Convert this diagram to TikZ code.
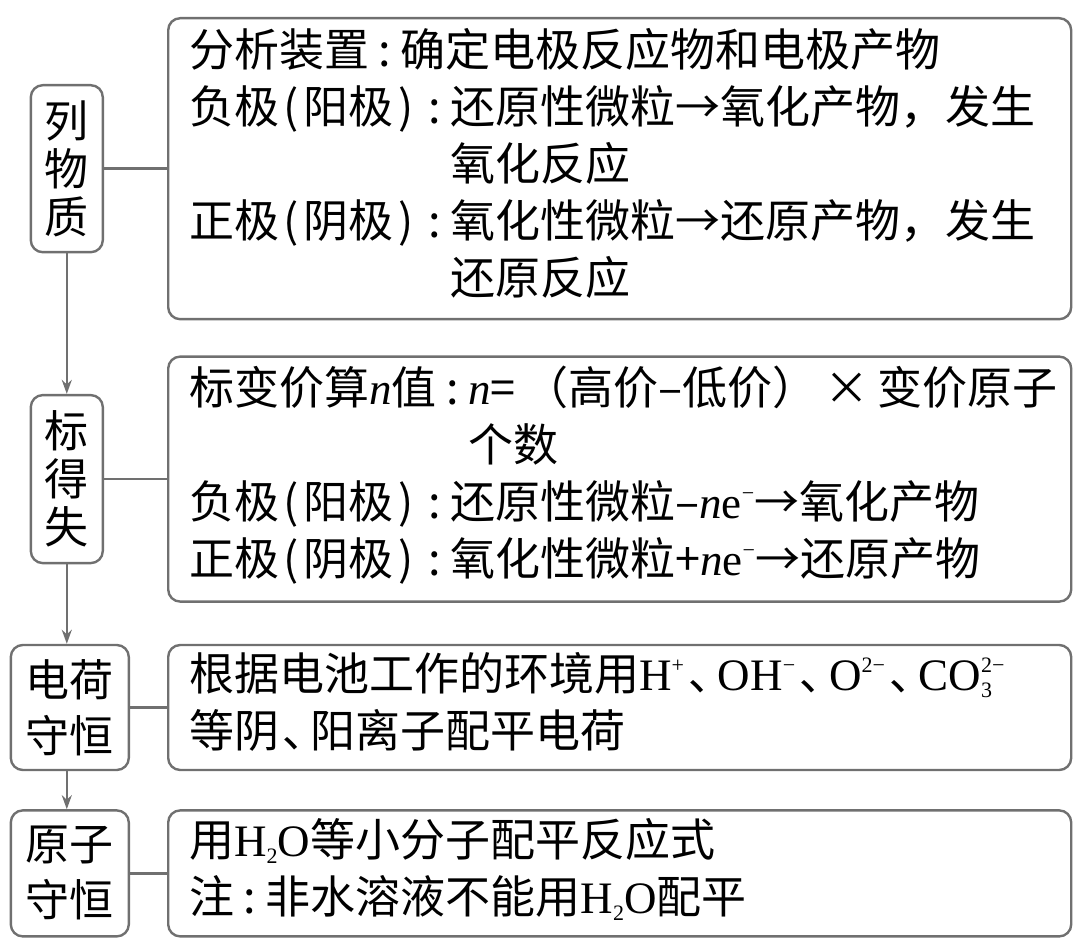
\documentclass[tikz,border=0pt]{standalone}
\usepackage[no-math]{fontspec}
\setmainfont{Noto Sans CJK SC}
\newfontfamily\latin{Liberation Serif}
\usetikzlibrary{arrows.meta, positioning}
\definecolor{LineGray}{HTML}{707070}
\newcommand{\mh}{\makebox[0.7em]{:}}
\newcommand{\lpar}{\makebox[0.55em]{(}}
\newcommand{\rpar}{\makebox[0.55em]{)}}
\newcommand{\dun}[1][0.7em]{\makebox[#1]{､}}
\newcommand{\el}[1]{{\latin #1}}
\newcommand{\up}[1]{\raisebox{0.4em}{\fontsize{22}{22}\selectfont\latin #1}}
\newcommand{\dn}[1]{\raisebox{-0.16em}{\fontsize{22}{22}\selectfont\latin #1}}
\newcommand{\nn}{{\latin\itshape n}}

\begin{document}
\begin{tikzpicture}[x=1pt, y=-1pt, >={Stealth[length=14pt, width=10pt]},
  every node/.style={font=\fontsize{45}{57}\selectfont},
  infobox/.style={draw=LineGray, line width=2.4pt, rounded corners=12pt, inner xsep=21pt, inner ysep=0pt},
  stagebox/.style={draw=LineGray, line width=2.4pt, rounded corners=12pt, inner sep=0pt, align=center, font=\fontsize{44}{48}\selectfont},
  link/.style={LineGray, line width=2.4pt}]
  \useasboundingbox (0,0) rectangle (1080,949);

  \node[infobox, anchor=north west, minimum height=301pt] (r1) at (167,17) {\makebox[861pt][l]{\begin{tabular}{@{}l@{}l@{}}
    \multicolumn{2}{@{}l@{}}{分析装置\mh 确定电极反应物和电极产物}\\
    负极\lpar 阳极\rpar\mh & 还原性微粒→氧化产物，发生\\
    & 氧化反应\\
    正极\lpar 阴极\rpar\mh & 氧化性微粒→还原产物，发生\\
    & 还原反应
  \end{tabular}}};
  \node[infobox, minimum height=245pt, below=35pt of r1] (r2) {\makebox[861pt][l]{\begin{tabular}{@{}l@{}l@{}}
    标变价算\nn 值\mh & \nn=\,（高价–低价）\,×\,变价原子\\
    & 个数\\
    \multicolumn{2}{@{}l@{}}{负极\lpar 阳极\rpar\mh 还原性微粒–\nn\el{e}\up{−}→氧化产物}\\
    \multicolumn{2}{@{}l@{}}{正极\lpar 阴极\rpar\mh 氧化性微粒+\nn\el{e}\up{−}→还原产物}
  \end{tabular}}};
  \node[infobox, minimum height=125pt, below=41pt of r2] (r3) {\makebox[861pt][l]{\begin{tabular}{@{}l@{}}
    根据电池工作的环境用\el{H}\up{+}\dun[0.75em]\el{OH}\up{−}\dun[0.75em]\el{O}\up{2−}\dun[0.75em]\el{CO}\rlap{\dn{3}}\up{2−}\\
    等阴\dun 阳离子配平电荷
  \end{tabular}}};
  \node[infobox, minimum height=126pt, below=38pt of r3] (r4) {\makebox[861pt][l]{\begin{tabular}{@{}l@{}}
    用\el{H}\dn{2}\el{O}等小分子配平反应式\\
    注\mh 非水溶液不能用\el{H}\dn{2}\el{O}配平
  \end{tabular}}};

  \node[stagebox, minimum width=72pt, minimum height=167pt, left=63pt of r1] (l1) {列\\物\\质};
  \node[stagebox, minimum width=72pt, minimum height=168pt, left=63pt of r2] (l2) {标\\得\\失};
  \node[stagebox, minimum width=118pt, minimum height=125pt, font=\fontsize{44}{56}\selectfont, left=37pt of r3] (l3) {电荷\\守恒};
  \node[stagebox, minimum width=118pt, minimum height=126pt, font=\fontsize{44}{56}\selectfont, left=37pt of r4] (l4) {原子\\守恒};

  \draw[link] (l1) -- (r1);
  \draw[link] (l2) -- (r2);
  \draw[link] (l3) -- (r3);
  \draw[link] (l4) -- (r4);
  \draw[link, ->] (l1) -- (l2);
  \draw[link, ->] (l2.south) -- (l2.south |- l3.north);
  \draw[link, ->] (l3.south -| l2.south) -- (l4.north -| l2.south);
\end{tikzpicture}
\end{document}
